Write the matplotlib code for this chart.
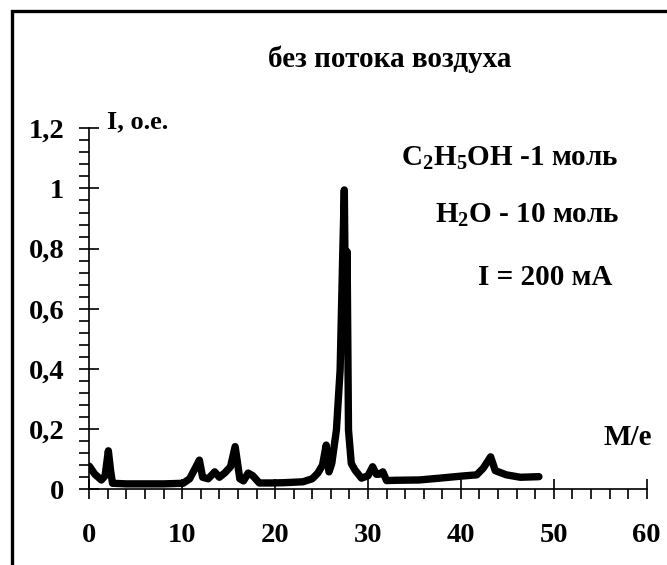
import numpy as np
import matplotlib
matplotlib.use('Agg')
import matplotlib.pyplot as plt
from matplotlib.patches import Rectangle
from matplotlib.ticker import MultipleLocator

plt.rcParams['font.family'] = ['Liberation Serif', 'DejaVu Serif']
plt.rcParams['font.weight'] = 'bold'
plt.rcParams['mathtext.fontset'] = 'custom'
plt.rcParams['mathtext.rm'] = 'Liberation Serif:bold'
plt.rcParams['mathtext.bf'] = 'Liberation Serif:bold'
plt.rcParams['mathtext.it'] = 'Liberation Serif:bold'
plt.rcParams['mathtext.default'] = 'bf'

# Data: mass spectrum
mass = [0.0, 0.6, 1.3, 1.7, 2.05, 2.3, 2.5, 4.0, 6.0, 8.0, 10.1, 10.8, 11.4, 11.85,
        12.2, 12.8, 13.5, 14.0, 14.6, 15.2, 15.7, 16.2, 16.6, 17.1, 17.6, 18.3,
        19.5, 21.0, 23.0, 24.0, 24.6, 25.1, 25.5, 25.8, 26.1, 26.6, 27.0, 27.3,
        27.45, 27.6, 27.75, 27.9, 28.2, 28.6, 29.3, 30.0, 30.5, 30.9, 31.2, 31.6,
        32.0, 33.0, 35.5, 37.7, 40.1, 41.7, 42.4, 43.2, 43.7, 44.9, 46.4, 48.4]
intensity = [0.077, 0.05, 0.031, 0.045, 0.128, 0.06, 0.02, 0.018, 0.018, 0.018,
             0.02, 0.035, 0.07, 0.097, 0.04, 0.035, 0.058, 0.04, 0.055, 0.075,
             0.142, 0.035, 0.028, 0.054, 0.045, 0.021, 0.021, 0.022, 0.025, 0.035,
             0.054, 0.08, 0.147, 0.058, 0.086, 0.197, 0.397, 0.807, 0.995, 0.5,
             0.79, 0.197, 0.086, 0.064, 0.037, 0.045, 0.075, 0.05, 0.05, 0.058,
             0.029, 0.03, 0.031, 0.037, 0.044, 0.048, 0.07, 0.108, 0.062, 0.048,
             0.04, 0.042]

x_ticks = [0, 10, 20, 30, 40, 50, 60]
y_ticks = [0, 0.2, 0.4, 0.6, 0.8, 1.0, 1.2]
y_tick_labels = ['0', '0,2', '0,4', '0,6', '0,8', '1', '1,2']

W, H = 667, 565
fig = plt.figure(figsize=(W / 100, H / 100), dpi=100)


def fx(px):
    return px / W


def fy(py):
    return 1 - py / H


# outer frame (only top and left edges are visible)
fig.patches.append(Rectangle((fx(12), fy(700)), 1.2, fy(11) - fy(700),
                             transform=fig.transFigure, fill=False,
                             edgecolor='black', linewidth=2.4))

ax = fig.add_axes([fx(89.3), fy(489.3), fx(646.7) - fx(89.3), fy(128.3) - fy(489.3)])
ax.plot(mass, intensity, color='black', linewidth=5.3,
        solid_joinstyle='round', solid_capstyle='round')

ax.set_xlim(0, 60)
ax.set_ylim(0, 1.2)
for s in ['top', 'right']:
    ax.spines[s].set_visible(False)
for s in ['left', 'bottom']:
    ax.spines[s].set_linewidth(1.2)
ax.patch.set_visible(False)

ax.set_xticks(x_ticks)
ax.set_xticklabels([str(t) for t in x_ticks])
ax.set_yticks(y_ticks)
ax.set_yticklabels(y_tick_labels)
ax.xaxis.set_minor_locator(MultipleLocator(2))
ax.yaxis.set_minor_locator(MultipleLocator(0.04))
ax.tick_params(which='major', direction='inout', length=14, width=1.2,
               labelsize=20.5, colors='black')
ax.tick_params(axis='x', which='major', pad=17)
ax.tick_params(axis='y', which='major', pad=11)
ax.tick_params(which='minor', direction='out', length=7, width=1.2)
for lbl in ax.get_xticklabels() + ax.get_yticklabels():
    lbl.set_fontweight('bold')

fig.text(fx(390), fy(67), 'без потока воздуха', ha='center', va='baseline',
         fontsize=21, fontweight='bold')
fig.text(fx(107), fy(128), 'I, о.е.', ha='left', va='baseline',
         fontsize=19, fontweight='bold')
fig.text(fx(652), fy(445), 'M/e', ha='right', va='baseline',
         fontsize=21, fontweight='bold')

fig.text(fx(619), fy(166), 'C$_2$H$_5$OH -1 моль', ha='right', va='baseline',
         fontsize=21, fontweight='bold')
fig.text(fx(620), fy(223), 'H$_2$O - 10 моль', ha='right', va='baseline',
         fontsize=21, fontweight='bold')
fig.text(fx(612), fy(285), 'I = 200 мА', ha='right', va='baseline',
         fontsize=21, fontweight='bold')

fig.savefig('out.png', dpi=100, facecolor='white')
